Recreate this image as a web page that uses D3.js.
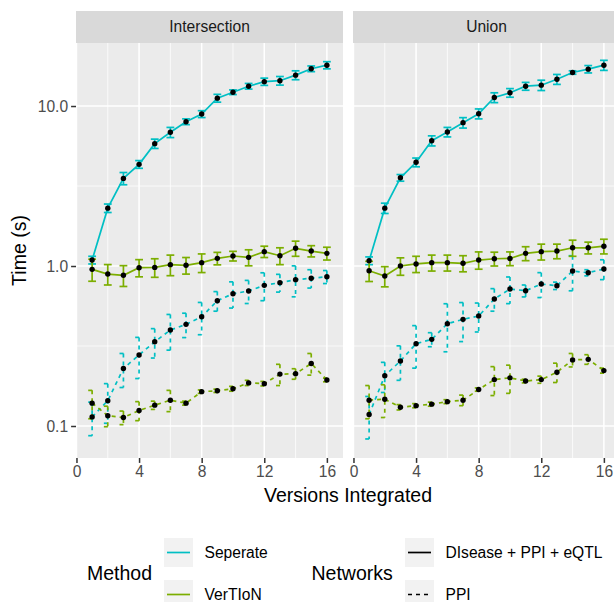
<!DOCTYPE html>
<html>
<head>
<meta charset="utf-8">
<script src="https://cdn.jsdelivr.net/npm/d3@7"></script>
<style>
  body { margin: 0; background: #fff; }
  svg { display: block; font-family: "Liberation Sans", Arial, sans-serif; }
</style>
</head>
<body>
<svg id="chart" width="614" height="602"></svg>
<script>
// --- data ---
const versions = [1, 2, 3, 4, 5, 6, 7, 8, 9, 10, 11, 12, 13, 14, 15, 16];
const panels = ["Intersection", "Union"];
const methods = ["Seperate", "VerTIoN"];
const networks = ["DIsease + PPI + eQTL", "PPI"];

// Intersection
const interSeperateAll    = [1.09, 2.30, 3.53, 4.32, 5.82, 6.85, 7.98, 8.91, 11.2, 12.2, 13.3, 14.2, 14.4, 15.6, 17.1, 18.0];
const interSeperateAllErr = [0.06, 0.14, 0.31, 0.24, 0.39, 0.50, 0.33, 0.44, 0.63, 0.41, 0.54, 0.74, 0.89, 1.00, 0.70, 0.93];
const interVertionAll     = [0.953, 0.891, 0.875, 0.976, 0.98, 1.02, 1.01, 1.05, 1.117, 1.155, 1.133, 1.23, 1.16, 1.29, 1.24, 1.20];
const interVertionAllErr  = [0.15, 0.13, 0.13, 0.12, 0.13, 0.15, 0.12, 0.14, 0.10, 0.08, 0.13, 0.10, 0.14, 0.14, 0.10, 0.11];
const interSeperatePPI    = [0.114, 0.144, 0.229, 0.278, 0.336, 0.398, 0.432, 0.482, 0.607, 0.671, 0.698, 0.757, 0.787, 0.822, 0.838, 0.857];
const interSeperatePPIErr = [0.027, 0.040, 0.055, 0.080, 0.070, 0.100, 0.075, 0.110, 0.085, 0.125, 0.115, 0.150, 0.100, 0.180, 0.110, 0.080];
const interVertionPPI     = [0.139, 0.116, 0.113, 0.125, 0.135, 0.145, 0.139, 0.164, 0.166, 0.171, 0.186, 0.184, 0.211, 0.212, 0.246, 0.194];
const interVertionPPIErr  = [0.028, 0.017, 0.011, 0.017, 0.008, 0.022, 0.004, 0.004, 0.004, 0.006, 0.007, 0.006, 0.032, 0.016, 0.038, 0.005];

// Union
const unionSeperateAll    = [1.08, 2.30, 3.56, 4.45, 6.07, 6.88, 7.87, 8.95, 11.3, 12.1, 13.3, 13.5, 14.7, 16.2, 17.0, 18.0];
const unionSeperateAllErr = [0.06, 0.17, 0.17, 0.28, 0.44, 0.47, 0.59, 0.64, 0.80, 0.75, 0.75, 1.00, 1.05, 0.40, 0.90, 1.30];
const unionVertionAll     = [0.935, 0.866, 1.00, 1.03, 1.05, 1.05, 1.04, 1.09, 1.11, 1.115, 1.20, 1.23, 1.24, 1.30, 1.30, 1.33];
const unionVertionAllErr  = [0.135, 0.125, 0.125, 0.12, 0.12, 0.12, 0.12, 0.135, 0.11, 0.11, 0.12, 0.14, 0.13, 0.15, 0.11, 0.14];
const unionSeperatePPI    = [0.118, 0.206, 0.255, 0.327, 0.348, 0.436, 0.464, 0.487, 0.622, 0.718, 0.701, 0.772, 0.753, 0.930, 0.908, 0.958];
const unionSeperatePPIErr = [0.035, 0.044, 0.062, 0.097, 0.035, 0.145, 0.127, 0.100, 0.100, 0.136, 0.060, 0.137, 0.040, 0.230, 0.040, 0.136];
const unionVertionPPI     = [0.145, 0.147, 0.131, 0.134, 0.137, 0.142, 0.145, 0.169, 0.195, 0.200, 0.191, 0.195, 0.217, 0.259, 0.261, 0.222];
const unionVertionPPIErr  = [0.034, 0.034, 0.005, 0.004, 0.004, 0.004, 0.011, 0.004, 0.040, 0.040, 0.005, 0.010, 0.030, 0.025, 0.018, 0.008];

const xTicks = [0, 4, 8, 12, 16];
const xMinorTicks = [2, 6, 10, 14];
const yTicks = [0.1, 1, 10];

// colours / line types
const methodColor = { "Seperate": "#00BFC4", "VerTIoN": "#7CAE00" };
const networkDash = { "DIsease + PPI + eQTL": null, "PPI": "4,4" };

// series table built from the arrays
function makeSeries(panel, method, network, means, errs) {
    return {
        panel, method, network,
        values: versions.map((v, i) => ({ x: v, y: means[i], lo: means[i] - errs[i], hi: means[i] + errs[i] }))
    };
}
const series = [
    makeSeries("Intersection", "Seperate", networks[0], interSeperateAll, interSeperateAllErr),
    makeSeries("Intersection", "Seperate", networks[1], interSeperatePPI, interSeperatePPIErr),
    makeSeries("Intersection", "VerTIoN", networks[0], interVertionAll, interVertionAllErr),
    makeSeries("Intersection", "VerTIoN", networks[1], interVertionPPI, interVertionPPIErr),
    makeSeries("Union", "Seperate", networks[0], unionSeperateAll, unionSeperateAllErr),
    makeSeries("Union", "Seperate", networks[1], unionSeperatePPI, unionSeperatePPIErr),
    makeSeries("Union", "VerTIoN", networks[0], unionVertionAll, unionVertionAllErr),
    makeSeries("Union", "VerTIoN", networks[1], unionVertionPPI, unionVertionPPIErr)
];

// --- layout ---
const svg = d3.select("#chart");
const panelLeft = 76, panelTop = 43, panelW = 267, panelH = 415, panelGap = 10;
const stripH = 32;
const lineW = 1.7;

const x = d3.scaleLinear().domain([-0.03, 17.03]).range([0, panelW]);
const y = d3.scaleLog().domain([0.0631, 24.77]).range([panelH, 0]);
const yMinorTicks = [Math.sqrt(0.1 * 1), Math.sqrt(1 * 10)];
const capHalf = 0.25; // errorbar width 0.5

const line = d3.line().x(d => x(d.x)).y(d => y(d.y));

panels.forEach((p, pi) => {
    const g = svg.append("g")
        .attr("transform", `translate(${panelLeft + pi * (panelW + panelGap)},${panelTop})`);

    // strip
    g.append("rect").attr("x", 0).attr("y", -stripH).attr("width", panelW).attr("height", stripH)
        .attr("fill", "#d9d9d9");
    g.append("text").attr("x", panelW / 2).attr("y", -stripH / 2).attr("dy", "0.35em")
        .attr("text-anchor", "middle").attr("fill", "#1a1a1a").style("font-size", "15.6px").text(p);

    // background + grid
    g.append("rect").attr("width", panelW).attr("height", panelH).attr("fill", "#ebebeb");
    g.selectAll(".xminor").data(xMinorTicks).enter().append("line")
        .attr("x1", d => x(d)).attr("x2", d => x(d)).attr("y1", 0).attr("y2", panelH)
        .attr("stroke", "#fff").attr("stroke-width", 0.75);
    g.selectAll(".yminor").data(yMinorTicks).enter().append("line")
        .attr("y1", d => y(d)).attr("y2", d => y(d)).attr("x1", 0).attr("x2", panelW)
        .attr("stroke", "#fff").attr("stroke-width", 0.75);
    g.selectAll(".xmajor").data(xTicks).enter().append("line")
        .attr("x1", d => x(d)).attr("x2", d => x(d)).attr("y1", 0).attr("y2", panelH)
        .attr("stroke", "#fff").attr("stroke-width", 1.5);
    g.selectAll(".ymajor").data(yTicks).enter().append("line")
        .attr("y1", d => y(d)).attr("y2", d => y(d)).attr("x1", 0).attr("x2", panelW)
        .attr("stroke", "#fff").attr("stroke-width", 1.5);

    const ps = series.filter(s => s.panel === p);

    // lines
    g.selectAll(".series-line").data(ps).enter().append("path")
        .attr("d", s => line(s.values))
        .attr("fill", "none")
        .attr("stroke", s => methodColor[s.method])
        .attr("stroke-width", lineW)
        .attr("stroke-dasharray", s => networkDash[s.network]);

    // error bars: top cap, stem, bottom cap (dash restarts on each piece)
    ps.forEach(s => {
        const eb = g.append("g")
            .attr("stroke", methodColor[s.method])
            .attr("stroke-width", lineW)
            .attr("stroke-dasharray", networkDash[s.network]);
        s.values.forEach(d => {
            eb.append("line").attr("x1", x(d.x - capHalf)).attr("x2", x(d.x + capHalf))
                .attr("y1", y(d.hi)).attr("y2", y(d.hi));
            eb.append("line").attr("x1", x(d.x)).attr("x2", x(d.x))
                .attr("y1", y(d.hi)).attr("y2", y(d.lo));
            eb.append("line").attr("x1", x(d.x - capHalf)).attr("x2", x(d.x + capHalf))
                .attr("y1", y(d.lo)).attr("y2", y(d.lo));
        });
    });

    // points
    ps.forEach(s => {
        g.selectAll(null).data(s.values).enter().append("circle")
            .attr("cx", d => x(d.x)).attr("cy", d => y(d.y)).attr("r", 2.7)
            .attr("fill", "#000");
    });

    // x axis
    const xAxis = g.append("g").attr("transform", `translate(0,${panelH})`)
        .call(d3.axisBottom(x).tickValues(xTicks).tickSize(4.9).tickPadding(3));
    xAxis.select(".domain").remove();
    xAxis.selectAll("line").attr("stroke", "#333").attr("stroke-width", 1.5);
    xAxis.selectAll("text").attr("fill", "#4d4d4d").style("font-size", "15.6px")
        .style("font-family", "Liberation Sans, Arial, sans-serif");

    // y axis on first panel only
    if (pi === 0) {
        const yAxis = g.append("g")
            .call(d3.axisLeft(y).tickValues(yTicks).tickFormat(d3.format(".1f")).tickSize(4.9).tickPadding(3));
        yAxis.select(".domain").remove();
        yAxis.selectAll("line").attr("stroke", "#333").attr("stroke-width", 1.5);
        yAxis.selectAll("text").attr("fill", "#4d4d4d").style("font-size", "15.6px")
            .style("font-family", "Liberation Sans, Arial, sans-serif");
    }
});

// axis titles
svg.append("text")
    .attr("x", panelLeft + panelW + panelGap / 2).attr("y", 502)
    .attr("text-anchor", "middle").style("font-size", "19.5px").attr("fill", "#000")
    .text("Versions Integrated");
svg.append("text")
    .attr("transform", `translate(26,${panelTop + panelH / 2}) rotate(-90)`)
    .attr("text-anchor", "middle").style("font-size", "19.5px").attr("fill", "#000")
    .text("Time (s)");

// --- legends ---
const keySize = 29, keyGap = 13, legTop = 538;

function drawLegend(title, titleX, keyX, items, strokeFor, dashFor) {
    const lg = svg.append("g");
    lg.append("text").attr("x", titleX).attr("y", legTop + keySize + keyGap / 2).attr("dy", "0.35em")
        .style("font-size", "19.5px").attr("fill", "#000").text(title);
    items.forEach((it, i) => {
        const ky = legTop + i * (keySize + keyGap);
        lg.append("rect").attr("x", keyX).attr("y", ky).attr("width", keySize).attr("height", keySize)
            .attr("fill", "#f2f2f2");
        lg.append("line").attr("x1", keyX + 3).attr("x2", keyX + keySize - 3)
            .attr("y1", ky + keySize / 2).attr("y2", ky + keySize / 2)
            .attr("stroke", strokeFor(it)).attr("stroke-width", lineW)
            .attr("stroke-dasharray", dashFor(it));
        lg.append("text").attr("x", keyX + keySize + 11.5).attr("y", ky + keySize / 2).attr("dy", "0.35em")
            .style("font-size", "15.6px").attr("fill", "#000").text(it);
    });
}
drawLegend("Method", 87, 164, methods, m => methodColor[m], () => null);
drawLegend("Networks", 311.5, 405, networks, () => "#000", n => networkDash[n]);
</script>
</body>
</html>
